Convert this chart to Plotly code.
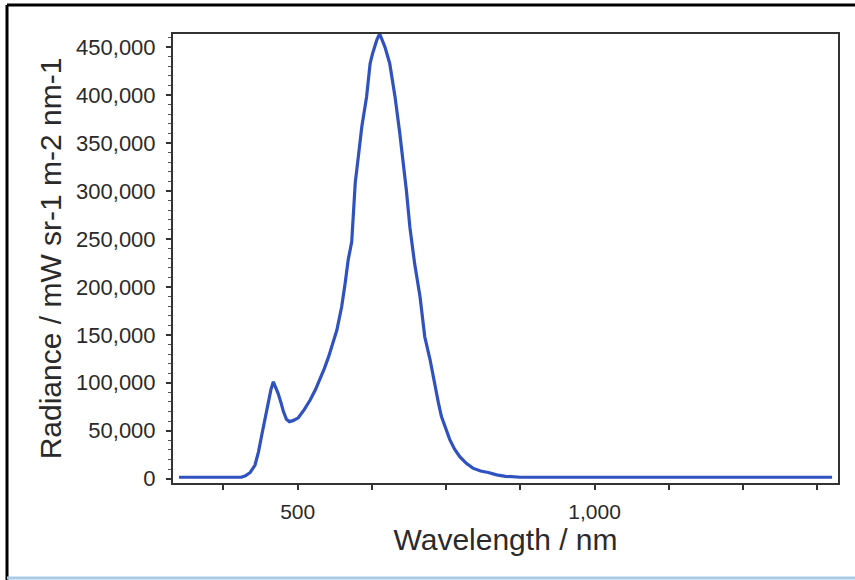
import plotly.graph_objects as go

wavelength_nm = [300, 350, 405, 412, 420, 428, 434, 439, 445, 450, 455, 459, 463, 467, 472,
                 476, 481, 486, 492, 501, 511, 521, 530, 537, 545, 552, 559, 566, 570, 574,
                 580, 585, 591, 594, 597, 602, 608, 616, 622, 626, 633, 638, 642, 647, 655,
                 664, 672, 678, 683, 689, 694, 697, 706, 714, 723, 731, 737, 742, 749, 756,
                 764, 773, 784, 795, 808, 821, 835, 850, 875, 1000, 1200, 1400]
radiance = [1500, 1500, 1500, 3000, 6500, 14000, 28000, 44000, 62000, 79000, 93000, 101000,
            95000, 89000, 79000, 70000, 62000, 59500, 60500, 63500, 72000, 82000, 93000,
            103000, 115000, 127000, 141000, 155000, 167000, 179000, 204000, 228000, 247000,
            280000, 309000, 335000, 367000, 398000, 433000, 443000, 457000, 464000, 458000,
            450000, 433000, 398000, 360000, 329000, 301000, 262000, 236000, 224000, 190000,
            148000, 124000, 96000, 79000, 65000, 52000, 41000, 31000, 23000, 16000, 11000,
            8000, 6500, 4000, 2500, 1500, 1500, 1500, 1500]

x_tick_vals = [375, 500, 625, 750, 875, 1000, 1125, 1250, 1375]
x_tick_text = ["", "500", "", "", "", "1,000", "", "", ""]
y_tick_vals = [0, 50000, 100000, 150000, 200000, 250000, 300000, 350000, 400000, 450000]

W, H = 855, 580
ML, MR, MT, MB = 173, 17, 34, 97
pw, ph = W - ML - MR, H - MT - MB

def px(x):
    return (x - ML) / pw

def py(y):
    return (H - MB - y) / ph

fig = go.Figure()
fig.add_trace(go.Scatter(x=wavelength_nm, y=radiance, mode="lines",
                         line=dict(color="#2f52c0", width=3.2), showlegend=False,
                         cliponaxis=False))

font_family = "Liberation Sans, Arial, sans-serif"
fig.update_layout(
    width=W, height=H,
    margin=dict(l=ML, r=MR, t=MT, b=MB),
    paper_bgcolor="white", plot_bgcolor="white",
    font=dict(family=font_family, color="#2a2a2a"),
    xaxis=dict(
        range=[290, 1410], tickvals=x_tick_vals, ticktext=x_tick_text,
        ticks="outside", ticklen=5, tickwidth=2, tickcolor="#333",
        showline=True, mirror=True, linecolor="#333", linewidth=2,
        showgrid=False, zeroline=False,
        tickfont=dict(size=21), ticklabelstandoff=4,
        title=dict(text="Wavelength / nm", font=dict(size=30), standoff=0),
    ),
    yaxis=dict(
        range=[-4500, 463700], tickvals=y_tick_vals, tickformat=",",
        ticks="outside", ticklen=5, tickwidth=1.5, tickcolor="#333",
        minor=dict(dtick=10000, ticks="outside", ticklen=3, tickcolor="#555", tickwidth=1),
        showline=True, mirror=True, linecolor="#333", linewidth=2,
        showgrid=False, zeroline=False,
        tickfont=dict(size=22), ticklabelstandoff=6,
        title=dict(text="Radiance / mW sr-1 m-2 nm-1", font=dict(size=30), standoff=6),
    ),
    shapes=[
        dict(type="line", xref="paper", yref="paper", x0=px(7), x1=px(855), y0=py(5), y1=py(5),
             line=dict(color="black", width=3)),
        dict(type="line", xref="paper", yref="paper", x0=px(7), x1=px(7), y0=py(5), y1=py(580),
             line=dict(color="black", width=3)),
        dict(type="line", xref="paper", yref="paper", x0=px(7), x1=px(855), y0=py(578), y1=py(578),
             line=dict(color="#a9cbe8", width=3)),
    ],
)

fig.write_html("out.html", config={"displayModeBar": False},
               post_script="document.body.style.margin='0';document.body.style.overflow='hidden';")
